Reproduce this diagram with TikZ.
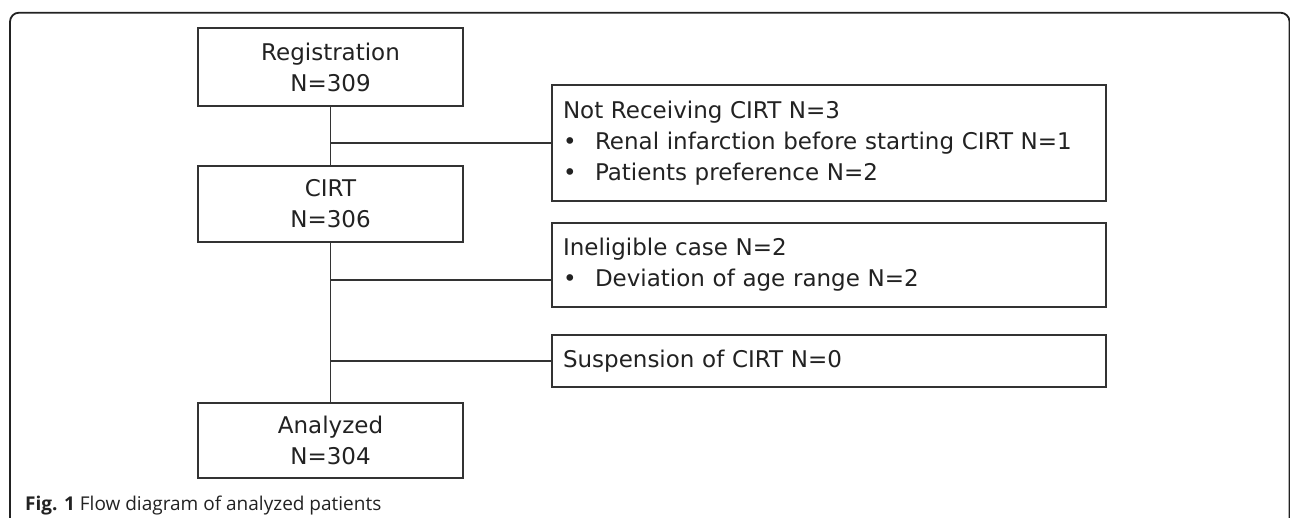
\documentclass[tikz,border=0pt]{standalone}
\usepackage{fontspec}
\setmainfont{DejaVu Sans}
\newfontfamily\capfont{Open Sans}
\definecolor{ink}{HTML}{222222}
\definecolor{edge}{HTML}{333333}
\begin{document}
\begin{tikzpicture}[x=1pt,y=-1pt,
  lbox/.style={draw=edge, line width=1.2pt, minimum width=265pt, inner sep=0pt, align=center, text=ink,
    font=\fontsize{23}{31}\selectfont},
  rbox/.style={draw=edge, line width=1.2pt, text width=532pt, inner xsep=11pt, inner ysep=0pt, align=left, text=ink,
    font=\fontsize{23}{31}\selectfont},
  link/.style={draw=edge, line width=1.2pt}]
\clip (0,0) rectangle (1290,518);
\fill[white] (0,0) rectangle (1290,518);
% outer frame
\draw[ink, line width=1.8pt, rounded corners=9pt] (10,530) -- (10,12.7) -- (1289.5,12.7) -- (1289.5,530);
% left column
\node[lbox, minimum height=78pt] (reg) at (330.5,67) {Registration\\N=309};
\node[lbox, minimum height=76pt] (cirt) at (330.5,204) {CIRT\\N=306};
\node[lbox, minimum height=75pt] (ana) at (330.5,440.5) {Analyzed\\N=304};
% right column
\node[rbox, minimum height=116pt] (nr) at (829,143) {Not Receiving CIRT N=3\\
  \makebox[32pt][l]{•}Renal infarction before starting CIRT N=1\\
  \makebox[32pt][l]{•}Patients preference N=2};
\node[rbox, minimum height=84pt] (inel) at (829,265) {Ineligible case N=2\\
  \makebox[32pt][l]{•}Deviation of age range N=2};
\node[rbox, minimum height=52pt] (susp) at (829,361) {Suspension of CIRT N=0};
\coordinate (dv) at ([yshift=-15pt]inel.west);
% connectors
\draw[link] (reg.south) -- (cirt.north);
\draw[link] (cirt.south) -- (ana.north);
\draw[link] (reg.south |- nr.west) -- (nr.west);
\draw[link] (cirt.south |- dv) -- (dv);
\draw[link] (cirt.south |- susp.west) -- (susp.west);
% caption
\node[anchor=base west, inner sep=0pt, text=ink, font=\capfont\fontsize{19}{22}\selectfont] (cap) at (25,510)
  {\textbf{Fig. 1} Flow diagram of analyzed patients};
\end{tikzpicture}
\end{document}
